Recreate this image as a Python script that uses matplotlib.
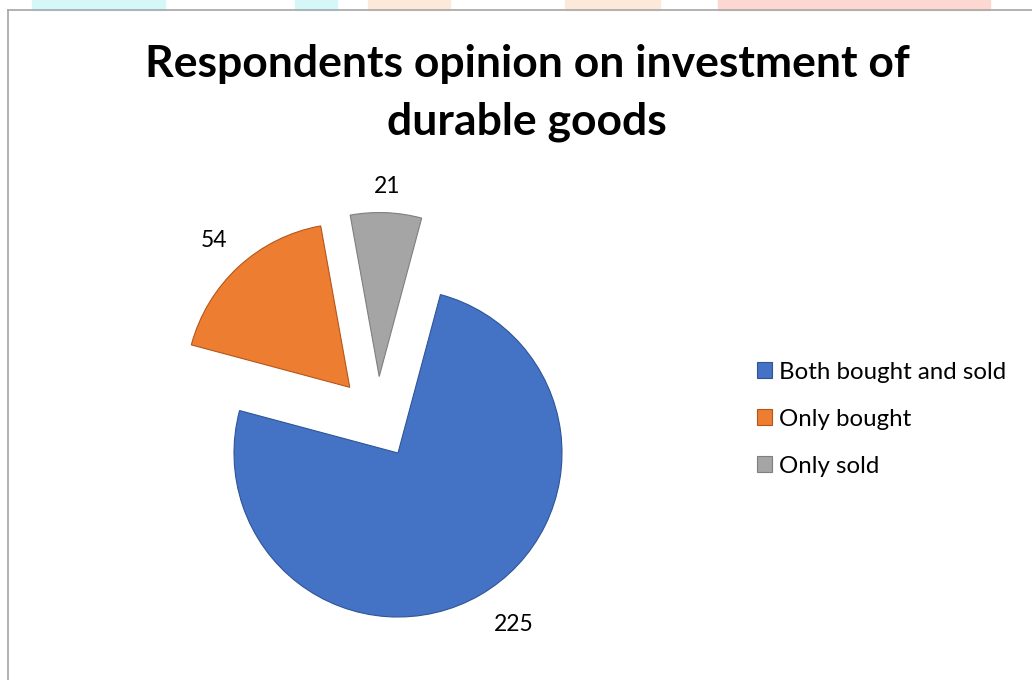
import numpy as np
import matplotlib.pyplot as plt
from matplotlib.patches import Rectangle

categories = ['Both bought and sold', 'Only bought', 'Only sold']
values = [225, 54, 21]
colors = ['#4472C4', '#ED7D31', '#A5A5A5']
edges = ['#2F5597', '#B4561B', '#7F7F7F']
label_dist = [1.26, 1.22, 1.16]
label_shift = [4, 0, 0]  # degrees, nudges the label round its slice

plt.rcParams['font.family'] = ['Lato', 'DejaVu Sans']

W, H = 1032, 680
fig = plt.figure(figsize=(W / 100, H / 100), dpi=100)

# faint watermark strip above the chart frame
strip = [(32, 165, '#d6f7f7'), (295, 337, '#d6f7f7'), (368, 450, '#fde9da'),
         (565, 660, '#fde9da'), (718, 990, '#fdd8d2')]
for x0, x1, c in strip:
    fig.patches.append(Rectangle((x0 / W, 1 - 10 / H), (x1 - x0) / W, 10 / H,
                                 transform=fig.transFigure, color=c, zorder=0))

# chart frame (left and top edges visible)
fig.add_artist(plt.Line2D([8 / W, 8 / W], [0, 1 - 10 / H], transform=fig.transFigure,
                          color='#A6A6A6', lw=1.2))
fig.add_artist(plt.Line2D([8 / W, 1], [1 - 10 / H, 1 - 10 / H], transform=fig.transFigure,
                          color='#A6A6A6', lw=1.2))

# pie in a full-figure axes, 1 data unit = radius in pixels
r_px = 164.0
cx, cy = 377.5, 417.5
ax = fig.add_axes([0, 0, 1, 1])
wedges, texts = ax.pie(values, colors=colors, startangle=75, counterclock=False,
                       explode=[0.25] * 3, labels=[str(v) for v in values],
                       wedgeprops=dict(linewidth=0.8),
                       textprops=dict(fontsize=16.5, color='#000000'))
for w, e, t, d, s in zip(wedges, edges, texts, label_dist, label_shift):
    w.set_edgecolor(e)
    th = np.deg2rad((w.theta1 + w.theta2) / 2 + s)
    t.set_position((w.center[0] + d * np.cos(th), w.center[1] + d * np.sin(th)))
    t.set_ha('center')
    t.set_va('center')
ax.set_xlim(-cx / r_px, (W - cx) / r_px)
ax.set_ylim(-(H - cy) / r_px, cy / r_px)
ax.set_aspect('equal')
ax.axis('off')

fig.text(527 / W, 1 - 93 / H, 'Respondents opinion on investment of\ndurable goods',
         ha='center', va='center', fontsize=32, fontweight='bold',
         linespacing=1.55, color='#000000')

leg = fig.legend(wedges, categories, loc='upper left',
                 bbox_to_anchor=(735 / W, 1 - 340 / H), frameon=False,
                 fontsize=17.3, handlelength=0.62, handleheight=0.62,
                 handletextpad=0.3, labelspacing=1.08)

fig.savefig('out.png', dpi=100)
